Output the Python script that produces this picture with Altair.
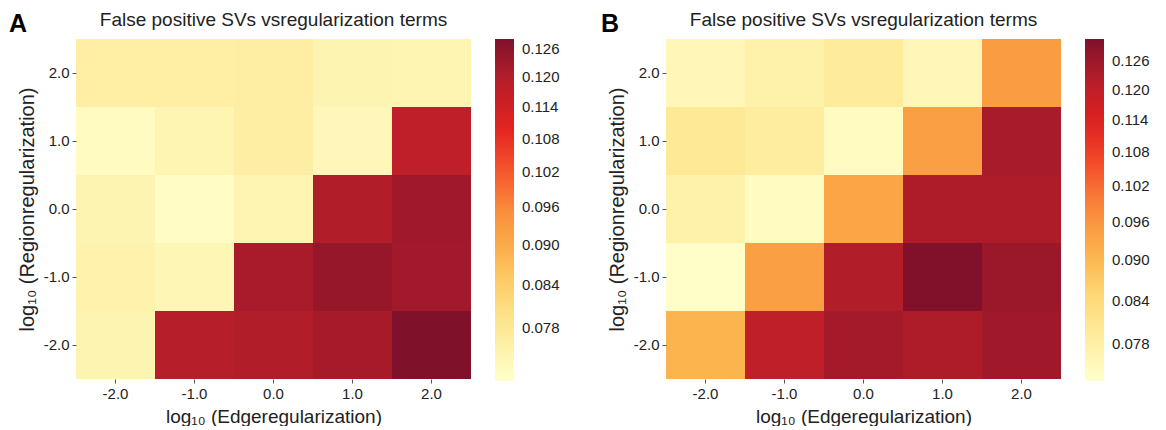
import altair as alt
import numpy as np
import pandas as pd

edge = ["-2.0", "-1.0", "0.0", "1.0", "2.0"]
region = ["2.0", "1.0", "0.0", "-1.0", "-2.0"]

# rows follow `region` (top to bottom), columns follow `edge`
fp_a = [
    [0.0760, 0.0760, 0.0762, 0.0745, 0.0742],
    [0.0725, 0.0742, 0.0762, 0.0735, 0.1181],
    [0.0745, 0.0720, 0.0742, 0.1202, 0.1230],
    [0.0750, 0.0740, 0.1216, 0.1245, 0.1228],
    [0.0745, 0.1195, 0.1202, 0.1220, 0.1280],
]
fp_b = [
    [0.0759, 0.0776, 0.0795, 0.0759, 0.0951],
    [0.0800, 0.0790, 0.0746, 0.0946, 0.1242],
    [0.0776, 0.0746, 0.0935, 0.1234, 0.1234],
    [0.0737, 0.0946, 0.1227, 0.1305, 0.1264],
    [0.0908, 0.1206, 0.1249, 0.1234, 0.1256],
]
legend_ticks = [0.078, 0.084, 0.090, 0.096, 0.102, 0.108, 0.114, 0.120, 0.126]
dom_a = [0.0712, 0.1282]
dom_b = [0.0733, 0.1308]
ylorrd = ["#ffffcc", "#feeda0", "#fdd976", "#fcb24c", "#f98d3c",
          "#f5502b", "#e0201f", "#b91f2a", "#7f112a"]

TITLE = "False positive SVs vsregularization terms"
FONT = "Liberation Sans"
W, H = 395, 340


def panel(vals, dom, letter, letter_dx):
    df = pd.DataFrame(
        [
            {"edge": e, "region": r, "fp": vals[i][j]}
            for i, r in enumerate(region)
            for j, e in enumerate(edge)
        ]
    )
    stops = list(np.geomspace(dom[0], dom[1], len(ylorrd)))
    scale = alt.Scale(type="log", domain=stops, range=ylorrd, interpolate="rgb")
    enc = dict(
        x=alt.X(
            "edge:O",
            sort=edge,
            title="log₁₀ (Edgeregularization)",
            axis=alt.Axis(labelAngle=0, titleFontSize=19, titlePadding=6),
        ),
        y=alt.Y(
            "region:O",
            sort=region,
            title="log₁₀ (Regionregularization)",
            axis=alt.Axis(titleFontSize=20, titlePadding=6),
        ),
        color=alt.Color(
            "fp:Q",
            scale=scale,
            legend=alt.Legend(
                title=None,
                values=legend_ticks,
                format=".3f",
                gradientLength=342,
                gradientThickness=19,
                gradientStrokeWidth=0,
                offset=24,
                labelFontSize=15,
                labelOffset=8,
                labelOverlap=False,
                labelColor="#222",
                labelFont=FONT,
                padding=0,
            ),
        ),
    )
    base = alt.Chart(df)
    heat_under = base.mark_rect().encode(**enc)
    heat = base.mark_rect().encode(**enc)
    ann = pd.DataFrame({"t": [letter]})
    lab = alt.Chart(ann).mark_text(
        fontSize=25, fontWeight="bold", font=FONT, align="left",
        baseline="alphabetic", color="black",
    ).encode(text="t:N", x=alt.value(letter_dx), y=alt.value(-7))
    ttl = alt.Chart(pd.DataFrame({"t": [TITLE]})).mark_text(
        fontSize=19, font=FONT, align="center", baseline="alphabetic",
        color="#222",
    ).encode(text="t:N", x=alt.value(W / 2), y=alt.value(-13))
    return alt.layer(heat_under, heat, lab, ttl).properties(width=W, height=H)


chart = (
    alt.hconcat(panel(fp_a, dom_a, "A", -67), panel(fp_b, dom_b, "B", -65),
                spacing=41)
    .resolve_scale(color="independent")
    .properties(padding={"left": 1, "top": 3, "right": 0, "bottom": 0})
    .configure_view(stroke=None)
    .configure_axis(
        labelFontSize=15,
        titleFontWeight="normal",
        labelFont=FONT,
        titleFont=FONT,
        domain=False,
        tickSize=4,
        tickColor="#555",
        labelColor="#222",
        titleColor="#222",
        labelPadding=3,
    )
)

chart.save("out.html", embed_options={"renderer": "svg", "actions": False})
